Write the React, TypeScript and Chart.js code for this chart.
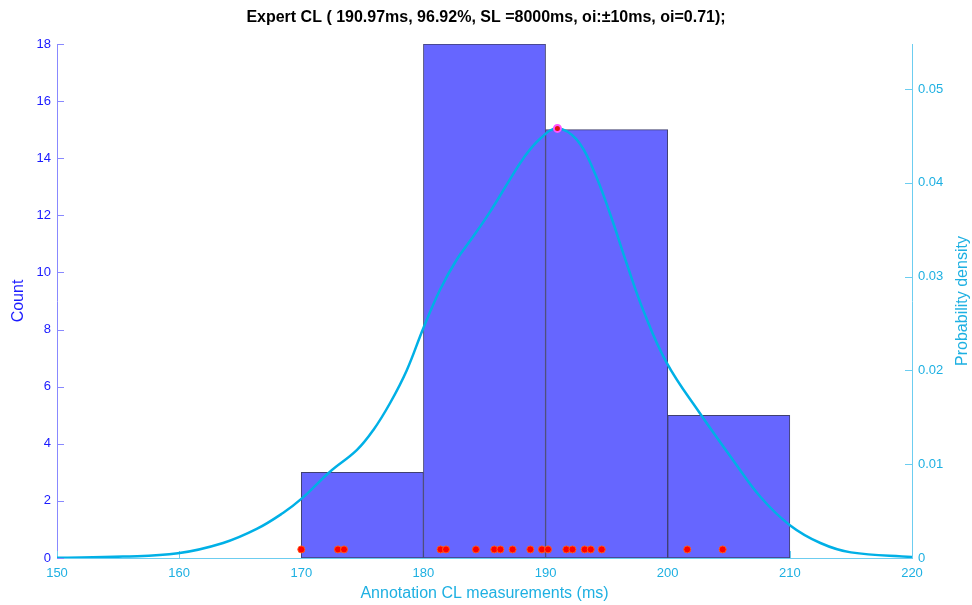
import React, { useEffect, useRef } from 'react';
import { Chart, registerables } from 'chart.js';

Chart.register(...registerables);

// ---- data ----
const binCenters = [175, 185, 195, 205];
const binCounts = [3, 18, 15, 5];

const densityX = [150, 155.4, 159.9, 163.6, 166.35, 168.5, 170, 172.35, 174.54, 175.9, 177.26, 178.63, 179.99, 181.36, 182.72, 184.09, 185.45, 186.82, 188.18, 189.55, 190.97, 192.55, 193.91, 195.28, 196.64, 198.0, 199.92, 202.65, 205.37, 207.6, 210.0, 212.5, 215.0, 220];
const densityY = [0.00003, 0.00015, 0.0005, 0.0016, 0.0031, 0.0048, 0.0063, 0.0092, 0.0115, 0.01365, 0.0165, 0.02, 0.0245, 0.0286, 0.0318, 0.0343, 0.0369, 0.0398, 0.0426, 0.0447, 0.0458, 0.0446, 0.0414, 0.0367, 0.0314, 0.0264, 0.0208, 0.0154, 0.0104, 0.0065, 0.0035, 0.0016, 0.0006, 0.0001];

const measurements = [170.0, 173.0, 173.5, 181.4, 181.85, 184.3, 185.8, 186.3, 187.3, 188.75, 189.7, 190.2, 191.7, 192.2, 193.2, 193.7, 194.6, 201.6, 204.5];
const measurementLevel = 0.3;

const peakX = [190.97];
const peakY = [0.0458];

const xTickMin = 150;
const xTickMax = 220;
const countMax = 18;
const densityMax = 0.0548;

const titleText = 'Expert CL ( 190.97ms, 96.92%, SL =8000ms, oi:\u00b110ms, oi=0.71);';
const xTitle = 'Annotation CL measurements (ms)';
const yTitle = 'Count';
const y1Title = 'Probability density';

// ---- colors ----
const CYAN = '#1eb0e2';
const CYAN_AXIS = '#6ccdf0';
const BLUE = '#1a1aff';
const BLUE_AXIS = '#8888ff';
const LINE = '#00b0e6';

const FONT = 'Liberation Sans, Arial, Helvetica, sans-serif';

const axisExtras = {
  id: 'axisExtras',
  beforeDatasetsDraw(chart: any) {
    const ctx = chart.ctx;
    const { x, y, y1 } = chart.scales;
    const L = 7;
    ctx.save();
    ctx.lineWidth = 1;
    ctx.strokeStyle = CYAN_AXIS;
    x.ticks.forEach((t: any) => {
      const px = Math.round(x.getPixelForValue(t.value)) + 0.5;
      ctx.beginPath();
      ctx.moveTo(px, x.top);
      ctx.lineTo(px, x.top - L);
      ctx.stroke();
    });
    ctx.strokeStyle = BLUE_AXIS;
    y.ticks.forEach((t: any) => {
      const py = Math.round(y.getPixelForValue(t.value)) + 0.5;
      ctx.beginPath();
      ctx.moveTo(y.right, py);
      ctx.lineTo(y.right + L, py);
      ctx.stroke();
    });
    ctx.strokeStyle = CYAN_AXIS;
    y1.ticks.forEach((t: any) => {
      const py = Math.round(y1.getPixelForValue(t.value)) + 0.5;
      ctx.beginPath();
      ctx.moveTo(y1.left, py);
      ctx.lineTo(y1.left - L, py);
      ctx.stroke();
    });
    ctx.restore();
  },
  afterDraw(chart: any) {
    const ctx = chart.ctx;
    const area = chart.chartArea;
    ctx.save();
    ctx.translate(963, (area.top + area.bottom) / 2);
    ctx.rotate(-Math.PI / 2);
    ctx.font = `16px ${FONT}`;
    ctx.fillStyle = CYAN;
    ctx.textAlign = 'center';
    ctx.textBaseline = 'middle';
    ctx.fillText(y1Title, 0, 0);
    ctx.restore();
  },
};

export default function App() {
  const ref = useRef<HTMLCanvasElement | null>(null);

  useEffect(() => {
    document.body.style.margin = '0';
    Chart.defaults.font.family = FONT;
    const chart = new Chart(ref.current as HTMLCanvasElement, {
      type: 'bar',
      data: {
        datasets: [
          {
            type: 'scatter',
            data: peakX.map((v, i) => ({ x: v, y: peakY[i] })),
            yAxisID: 'y1',
            pointRadius: 3.5,
            pointBackgroundColor: '#e01010',
            pointBorderColor: '#ff55ff',
            pointBorderWidth: 2,
            order: 0,
          } as any,
          {
            type: 'scatter',
            data: measurements.map((v) => ({ x: v, y: measurementLevel })),
            yAxisID: 'y',
            pointRadius: 3.5,
            pointBackgroundColor: '#ff0000',
            pointBorderColor: '#ff5a1a',
            pointBorderWidth: 1,
            order: 1,
          } as any,
          {
            type: 'line',
            data: densityX.map((v, i) => ({ x: v, y: densityY[i] })),
            yAxisID: 'y1',
            borderColor: LINE,
            borderWidth: 2.5,
            pointRadius: 0,
            tension: 0.4,
            fill: false,
            order: 2,
          } as any,
          {
            type: 'bar',
            data: binCenters.map((v, i) => ({ x: v, y: binCounts[i] })),
            yAxisID: 'y',
            backgroundColor: '#6666ff',
            borderColor: '#404070',
            borderWidth: 1,
            borderSkipped: false,
            barPercentage: 1,
            categoryPercentage: 1,
            order: 3,
          } as any,
        ],
      },
      options: {
        animation: false,
        responsive: true,
        maintainAspectRatio: false,
        layout: { padding: 0 },
        plugins: {
          legend: { display: false },
          tooltip: { enabled: false },
          title: {
            display: true,
            text: titleText,
            color: '#000000',
            font: { size: 16, weight: 'bold', family: FONT },
            padding: { top: 8, bottom: 16.8 },
          },
        },
        scales: {
          x: {
            type: 'linear',
            position: 'bottom',
            min: xTickMin,
            max: xTickMax,
            offset: false,
            grid: { display: false, drawTicks: false },
            border: { display: true, color: CYAN_AXIS, width: 1 },
            ticks: { stepSize: 10, color: CYAN, font: { size: 13 }, padding: 8, maxRotation: 0 },
            title: { display: true, text: xTitle, color: CYAN, font: { size: 16 }, padding: { top: 2, bottom: 2 } },
            afterFit: (s: any) => { s.height = 47; },
          } as any,
          y: {
            type: 'linear',
            position: 'left',
            min: 0,
            max: countMax,
            grid: { display: false, drawTicks: false },
            border: { display: true, color: BLUE_AXIS, width: 1 },
            ticks: { stepSize: 2, color: BLUE, font: { size: 13 }, padding: 6 },
            title: { display: true, text: yTitle, color: BLUE, font: { size: 16 }, padding: { top: 9, bottom: 0 } },
            afterFit: (s: any) => { s.width = 57; },
          } as any,
          y1: {
            type: 'linear',
            position: 'right',
            min: 0,
            max: densityMax,
            grid: { display: false, drawTicks: false },
            border: { display: true, color: CYAN_AXIS, width: 1 },
            ticks: {
              stepSize: 0.01,
              includeBounds: false,
              color: CYAN,
              font: { size: 13 },
              padding: 6,
              callback: (v: any) => (Number(v) === 0 ? '0' : Number(v).toFixed(2)),
            },
            afterFit: (s: any) => { s.width = 60; },
          } as any,
        },
      },
      plugins: [axisExtras],
    });
    return () => chart.destroy();
  }, []);

  return (
    <div style={{ position: 'absolute', left: 0, top: 0, width: 972, height: 605, background: '#ffffff' }}>
      <canvas ref={ref} />
    </div>
  );
}
